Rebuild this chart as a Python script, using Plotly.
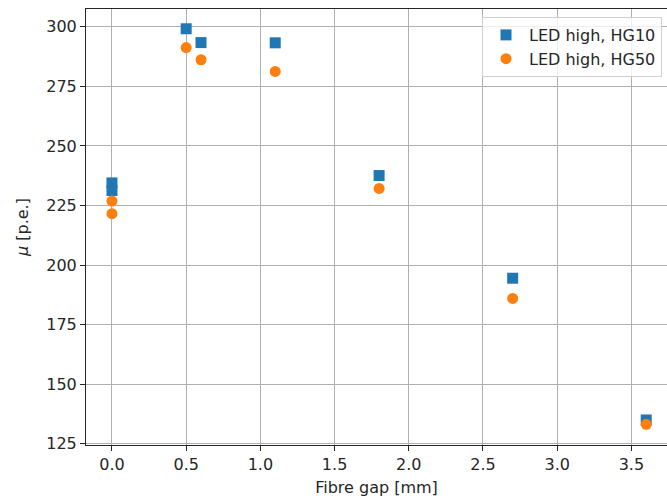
import plotly.graph_objects as go

gap_hg10 = [0.0, 0.0, 0.5, 0.6, 1.1, 1.8, 2.7, 3.6]
mu_hg10 = [234.5, 231.3, 299.2, 293.4, 293.3, 237.6, 194.5, 135.0]
gap_hg50 = [0.0, 0.0, 0.5, 0.6, 1.1, 1.8, 2.7, 3.6]
mu_hg50 = [226.9, 221.6, 291.3, 286.2, 281.3, 232.2, 186.0, 133.2]

x_ticks = [0.0, 0.5, 1.0, 1.5, 2.0, 2.5, 3.0, 3.5]
y_ticks = [125, 150, 175, 200, 225, 250, 275, 300]

FS = 16

fig = go.Figure()
fig.add_trace(go.Scatter(x=gap_hg10, y=mu_hg10, mode="markers", name="LED high, HG10",
                         marker=dict(symbol="square", size=11, color="#1f77b4")))
fig.add_trace(go.Scatter(x=gap_hg50, y=mu_hg50, mode="markers", name="LED high, HG50",
                         marker=dict(symbol="circle", size=11, color="#ff7f0e")))

axis_common = dict(showgrid=True, gridcolor="#b0b0b0", gridwidth=0.8,
                   showline=True, linecolor="#262626", linewidth=1,
                   ticks="outside", ticklen=5, tickcolor="#262626",
                   tickfont=dict(family="DejaVu Sans", size=FS, color="#262626"),
                   zeroline=False)

fig.update_layout(
    width=667, height=500,
    margin=dict(l=86, r=0, t=9, b=55),
    plot_bgcolor="white", paper_bgcolor="white",
    font=dict(family="DejaVu Sans", size=FS, color="#262626"),
    xaxis=dict(range=[-0.175, 3.74], tickvals=x_ticks,
               ticktext=[f"{v:.1f}" for v in x_ticks], mirror=True,
               ticklabelstandoff=0,
               title=dict(text="Fibre gap [mm]", standoff=8,
                          font=dict(family="DejaVu Sans", size=FS)),
               **axis_common),
    yaxis=dict(range=[124.5, 307.5], tickvals=y_ticks,
               title=dict(text="<i>μ</i> [p.e.]", standoff=13,
                          font=dict(family="DejaVu Sans", size=FS)),
               **axis_common),
    legend=dict(x=0.9914, y=0.9817, xanchor="right", yanchor="top",
                bgcolor="rgba(255,255,255,0.8)", bordercolor="#d0d0d0", borderwidth=1,
                font=dict(family="DejaVu Sans", size=FS, color="#262626"),
                itemwidth=36),
    showlegend=True,
)

fig.write_html("out.html")
